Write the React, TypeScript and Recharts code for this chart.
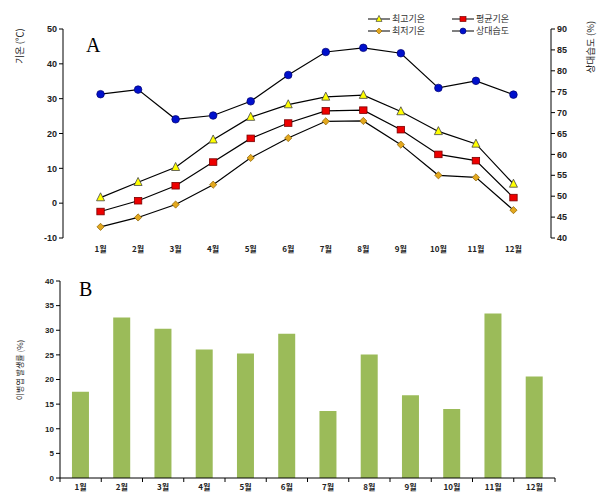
import React from 'react';
import { LineChart, Line, BarChart, Bar, XAxis, YAxis } from 'recharts';

const months = ['1월', '2월', '3월', '4월', '5월', '6월', '7월', '8월', '9월', '10월', '11월', '12월'];
const maxTemp = [1.6, 6.0, 10.3, 18.2, 24.7, 28.3, 30.5, 31.0, 26.3, 20.6, 17.0, 5.5];
const meanTemp = [-2.4, 0.7, 5.0, 11.8, 18.6, 23.0, 26.5, 26.7, 21.1, 14.0, 12.2, 1.6];
const minTemp = [-6.8, -4.1, -0.4, 5.3, 13.0, 18.7, 23.5, 23.6, 16.8, 8.0, 7.4, -2.0];
const humidity = [74.4, 75.5, 68.4, 69.3, 72.7, 79.0, 84.5, 85.5, 84.2, 75.9, 77.6, 74.3];
const occurrence = [17.5, 32.6, 30.3, 26.1, 25.3, 29.3, 13.6, 25.1, 16.8, 14.0, 33.4, 20.6];

const tempTicks = [-10, 0, 10, 20, 30, 40, 50];
const humidityTicks = [40, 45, 50, 55, 60, 65, 70, 75, 80, 85, 90];
const rateTicks = [0, 5, 10, 15, 20, 25, 30, 35, 40];
const monthTicks = [1, 2, 3, 4, 5, 6, 7, 8, 9, 10, 11, 12];

const lineData = months.map((m, i) => ({
    idx: i + 1,
    name: m,
    max: maxTemp[i],
    mean: meanTemp[i],
    min: minTemp[i],
    hum: humidity[i],
}));

const barData = months.map((m, i) => ({ name: m, value: occurrence[i] }));

const tickFont = { fontSize: 9, fontWeight: 700, fill: '#222', fontFamily: 'Liberation Sans, Arial, sans-serif' };
const krFont = '"Noto Sans CJK KR", sans-serif';

const triangle = (cx: number, cy: number, s: number) =>
    `${cx},${cy - s * 0.6} ${cx - s / 2},${cy + s * 0.4} ${cx + s / 2},${cy + s * 0.4}`;

const TriDot = (props: any) => {
    const { cx, cy, index } = props;
    return <polygon key={`tri-${index}`} points={triangle(cx, cy, 8)} fill="#FFFF00" stroke="#444" strokeWidth={0.8} />;
};
const SquareDot = (props: any) => {
    const { cx, cy, index } = props;
    return <rect key={`sq-${index}`} x={cx - 3.7} y={cy - 3.3} width={7.4} height={6.6} fill="#EE0000" stroke="#7a0000" strokeWidth={0.8} />;
};
const DiamondDot = (props: any) => {
    const { cx, cy, index } = props;
    return (
        <polygon
            key={`dm-${index}`}
            points={`${cx},${cy - 3.6} ${cx + 3.6},${cy} ${cx},${cy + 3.6} ${cx - 3.6},${cy}`}
            fill="#E3A81E"
            stroke="#8a6000"
            strokeWidth={0.7}
        />
    );
};
const CircleDot = (props: any) => {
    const { cx, cy, index } = props;
    return <circle key={`ci-${index}`} cx={cx} cy={cy} r={3.8} fill="#0010CC" stroke="#000070" strokeWidth={0.7} />;
};

// tick for bar chart: mark on band edges, label in the middle
const BAND = 495 / 12;
const BandTick = (props: any) => {
    const { x, y, payload, index } = props;
    return (
        <g>
            <line x1={x - BAND / 2} y1={y - 6} x2={x - BAND / 2} y2={y - 2} stroke="#000" strokeWidth={1} />
            {index === months.length - 1 && (
                <line x1={x + BAND / 2} y1={y - 6} x2={x + BAND / 2} y2={y - 2} stroke="#000" strokeWidth={1} />
            )}
            <text x={x} y={y} dy="0.71em" textAnchor="middle" style={{ ...tickFont, fontFamily: krFont, fontSize: 8 }}>
                {payload.value}
            </text>
        </g>
    );
};

const LegendItem = ({ label, marker }: { label: string; marker: React.ReactNode }) => (
    <div style={{ display: 'flex', alignItems: 'center', width: 84, height: 11, overflow: 'visible' }}>
        <svg width={22} height={10}>
            <line x1={0} y1={5} x2={22} y2={5} stroke="#000" strokeWidth={1} />
            {marker}
        </svg>
        <span style={{ marginLeft: 2, fontSize: 9, color: '#333', fontFamily: krFont, lineHeight: '10px' }}>{label}</span>
    </div>
);

const rotated = (x: number, y: number, size: number): React.CSSProperties => ({
    position: 'absolute',
    left: x,
    top: y,
    transform: 'translate(-50%, -50%) rotate(-90deg)',
    whiteSpace: 'nowrap',
    fontSize: size,
    fontFamily: krFont,
    color: '#222',
    lineHeight: 1,
});

const App: React.FC = () => {
    return (
        <div style={{ position: 'absolute', left: 0, top: 0, width: 602, height: 497, background: '#fff' }}>
            <div style={{ position: 'absolute', left: 0, top: 0 }}>
                <LineChart width={602} height={262} data={lineData} margin={{ top: 29, right: 0, left: 0, bottom: 4 }}>
                    <XAxis
                        dataKey="idx"
                        type="number"
                        domain={[0, 13]}
                        ticks={monthTicks}
                        tickFormatter={(v: number) => months[v - 1]}
                        axisLine={false}
                        tickLine={false}
                        height={20}
                        tick={{ ...tickFont, fontFamily: krFont, fontSize: 8 }}
                    />
                    <YAxis
                        yAxisId="t"
                        domain={[-10, 50]}
                        ticks={tempTicks}
                        width={63}
                        tickSize={4}
                        axisLine={{ stroke: '#000' }}
                        tickLine={{ stroke: '#000' }}
                        tick={tickFont}
                    />
                    <YAxis
                        yAxisId="h"
                        orientation="right"
                        domain={[40, 90]}
                        ticks={humidityTicks}
                        width={51}
                        tickSize={4}
                        axisLine={{ stroke: '#000' }}
                        tickLine={{ stroke: '#000' }}
                        tick={tickFont}
                    />
                    <Line yAxisId="h" dataKey="hum" stroke="#000" strokeWidth={1.2} dot={CircleDot} isAnimationActive={false} />
                    <Line yAxisId="t" dataKey="max" stroke="#000" strokeWidth={1.2} dot={TriDot} isAnimationActive={false} />
                    <Line yAxisId="t" dataKey="mean" stroke="#000" strokeWidth={1.2} dot={SquareDot} isAnimationActive={false} />
                    <Line yAxisId="t" dataKey="min" stroke="#000" strokeWidth={1.2} dot={DiamondDot} isAnimationActive={false} />
                </LineChart>
            </div>

            <div style={{ position: 'absolute', left: 0, top: 262 }}>
                <BarChart width={602} height={235} data={barData} margin={{ top: 19, right: 47, left: 0, bottom: 0 }} barCategoryGap="29%">
                    <XAxis
                        dataKey="name"
                        height={19}
                        tickSize={4}
                        tickMargin={2}
                        tickLine={false}
                        axisLine={{ stroke: '#000' }}
                        tick={<BandTick />}
                        interval={0}
                    />
                    <YAxis
                        domain={[0, 40]}
                        ticks={rateTicks}
                        width={60}
                        tickSize={4}
                        axisLine={{ stroke: '#000' }}
                        tickLine={{ stroke: '#000' }}
                        tick={{ ...tickFont, fontSize: 8 }}
                    />
                    <Bar dataKey="value" fill="#9BBB59" isAnimationActive={false} />
                </BarChart>
            </div>

            <div style={{ position: 'absolute', left: 86, top: 34, fontFamily: '"Liberation Serif", serif', fontSize: 20 }}>A</div>
            <div style={{ position: 'absolute', left: 79, top: 278, fontFamily: '"Liberation Serif", serif', fontSize: 20 }}>B</div>

            <div style={rotated(20, 46, 9.5)}>기온 (℃)</div>
            <div style={rotated(591, 47, 9.5)}>상대습도 (%)</div>
            <div style={rotated(20, 370, 8)}>이병엽 발생률 (%)</div>

            <div style={{ position: 'absolute', left: 368, top: 13, display: 'flex', flexWrap: 'wrap', width: 170, rowGap: 1 }}>
                <LegendItem label="최고기온" marker={<polygon points={triangle(11, 5, 6)} fill="#FFFF00" stroke="#444" strokeWidth={0.7} />} />
                <LegendItem label="평균기온" marker={<rect x={8} y={2.5} width={6} height={5} fill="#EE0000" stroke="#7a0000" strokeWidth={0.7} />} />
                <LegendItem label="최저기온" marker={<polygon points="11,2 14,5 11,8 8,5" fill="#E3A81E" stroke="#8a6000" strokeWidth={0.6} />} />
                <LegendItem label="상대습도" marker={<circle cx={11} cy={5} r={3} fill="#0010CC" stroke="#000070" strokeWidth={0.6} />} />
            </div>
        </div>
    );
};

export default App;
